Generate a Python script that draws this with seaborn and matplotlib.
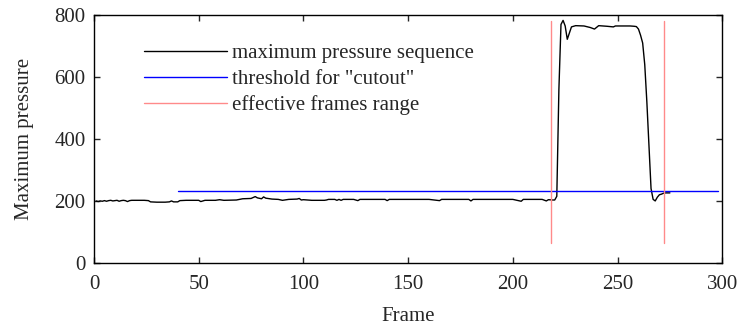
import numpy as np
import pandas as pd
import seaborn as sns
import matplotlib.pyplot as plt

# pressure sequence (frame, max pressure)
frames = [1, 2, 3, 4, 5, 6, 7, 8, 9, 10, 11, 12, 13, 14, 15, 16, 17, 18, 20,
          24, 26, 27, 30, 34, 36, 37, 38, 40, 41, 44, 50, 51, 53, 58, 60, 62,
          68, 71, 75, 77, 78, 80, 81, 82, 85, 88, 90, 91, 93, 97, 98, 99, 100,
          104, 110, 111, 112, 115, 116, 117, 118, 119, 124, 126, 127, 139, 140,
          141, 160, 165, 166, 179, 180, 181, 200, 204, 205, 214, 216, 217, 219,
          220, 221, 222, 223, 224, 225, 226, 227, 228, 230, 234, 237, 239, 241,
          245, 248, 249, 252, 256, 258, 259, 260, 261, 262, 263, 264, 265, 266,
          267, 268, 269, 270, 271, 272, 273, 275]
pressure = [200, 198, 200, 199, 201, 199, 201, 202, 200, 201, 202, 199, 201, 202,
            201, 198, 201, 202, 202, 202, 201, 197, 196, 196, 197, 200, 197, 197,
            201, 202, 202, 198, 202, 202, 204, 202, 203, 207, 208, 214, 210, 207,
            213, 209, 206, 205, 202, 203, 205, 206, 208, 203, 204, 202, 202, 203,
            205, 205, 202, 205, 202, 205, 205, 201, 205, 205, 201, 205, 205, 201,
            205, 205, 200, 205, 205, 199, 205, 205, 200, 204, 203, 203, 215, 560,
            770, 783, 765, 722, 742, 762, 766, 765, 760, 755, 766, 764, 762, 765,
            765, 765, 764, 763, 755, 735, 710, 640, 520, 380, 240, 205, 200, 212,
            220, 222, 225, 226, 226]

threshold = 233
threshold_frames = [40, 298]
range_frames = [218, 272]
range_low, range_high = 65, 780

df = pd.DataFrame({'Frame': frames, 'Pressure': pressure})

sns.set_style('ticks')
plt.rcParams['font.family'] = ['Liberation Serif', 'DejaVu Serif']
plt.rcParams['font.size'] = 15

fig = plt.figure(figsize=(7.4, 3.29), dpi=100)
ax = fig.add_axes([0.127, 0.201, 0.849, 0.753])

sns.lineplot(data=df, x='Frame', y='Pressure', color='black', linewidth=1,
             ax=ax, label='maximum pressure sequence')
ax.plot(threshold_frames, [threshold, threshold], color='blue', linewidth=1,
        label='threshold for "cutout"')
ax.plot([range_frames[0], range_frames[0], np.nan, range_frames[1], range_frames[1]],
        [range_low, range_high, np.nan, range_low, range_high],
        color='#ff8a8a', linewidth=1, label='effective frames range')

ax.set_xlim(0, 300)
ax.set_ylim(0, 800)
ax.set_xticks([0, 50, 100, 150, 200, 250, 300])
ax.set_yticks([0, 200, 400, 600, 800])
ax.set_xlabel('Frame', labelpad=9)
ax.set_ylabel('Maximum pressure', labelpad=15)
ax.tick_params(direction='in', top=True, right=True, length=4, width=1,
               labelsize=15)
ax.tick_params(axis='x', pad=9)
ax.tick_params(axis='y', pad=6)
for s in ax.spines.values():
    s.set_linewidth(1)
    s.set_color('black')

ax.legend(loc='upper left', bbox_to_anchor=(0.049, 0.96), frameon=False,
          handlelength=4.0, handletextpad=0.25, labelspacing=0.3, fontsize=15)

fig.savefig('out.png', dpi=100)
